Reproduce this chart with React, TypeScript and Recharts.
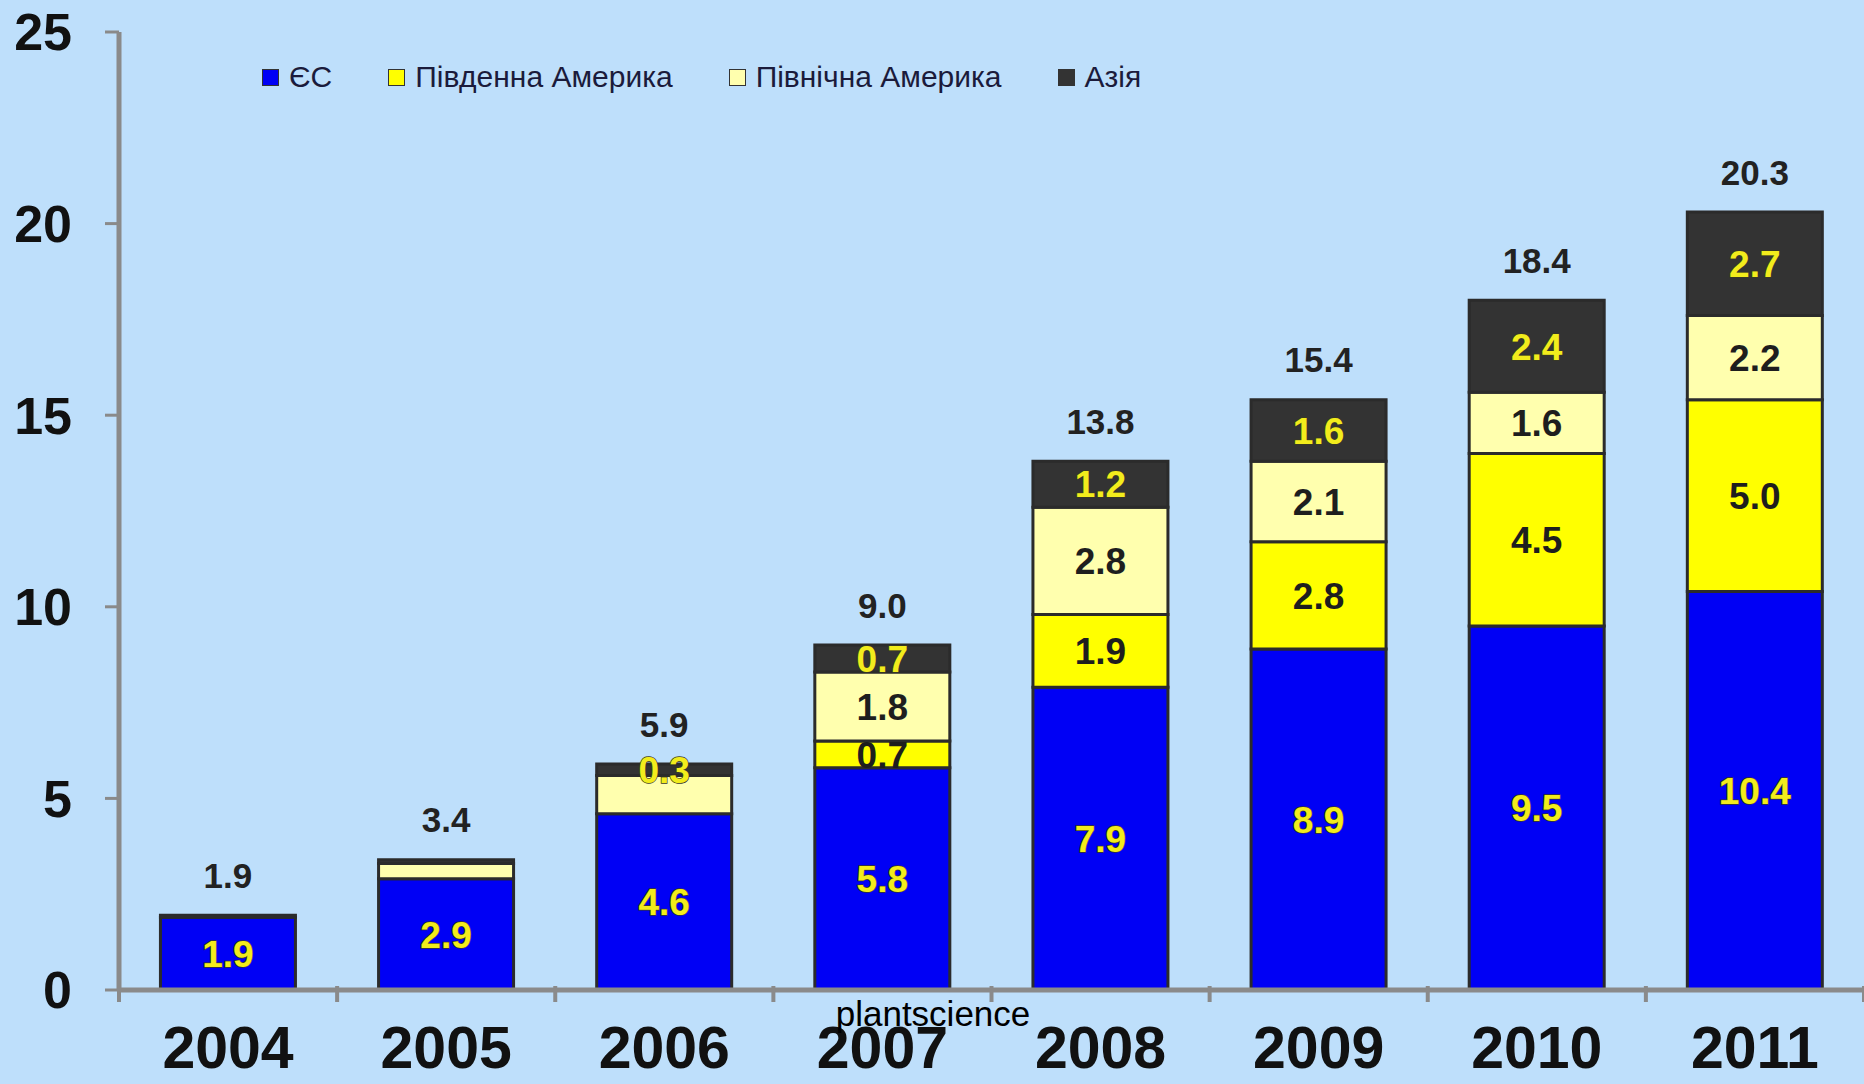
import React from 'react';
import { BarChart, Bar, XAxis, YAxis, Legend, LabelList } from 'recharts';

const years = ['2004', '2005', '2006', '2007', '2008', '2009', '2010', '2011'];
const eu = [1.9, 2.9, 4.6, 5.8, 7.9, 8.9, 9.5, 10.4];
const southAmerica = [0, 0, 0, 0.7, 1.9, 2.8, 4.5, 5.0];
const northAmerica = [0, 0.4, 1.0, 1.8, 2.8, 2.1, 1.6, 2.2];
const asia = [0.05, 0.1, 0.3, 0.7, 1.2, 1.6, 2.4, 2.7];
const totals = [1.9, 3.4, 5.9, 9.0, 13.8, 15.4, 18.4, 20.3];
const yTicks = [0, 5, 10, 15, 20, 25];
const seriesNames = ['ЄС', 'Південна Америка', 'Північна Америка', 'Азія'];

// segments too thin in the original to carry a number
const saHidden = ['2005', '2006'];
const naHidden = ['2005', '2006'];
const asiaHidden = ['2004', '2005'];

const data = years.map((year, i) => ({
  year,
  eu: eu[i],
  sa: southAmerica[i],
  na: northAmerica[i],
  asia: asia[i],
  total: totals[i],
}));

const BG = '#BEDFFB';
const AXIS = '#8A8A8A';
const EDGE = '#2B2B2B';
const FONT = '"Liberation Sans", Arial, sans-serif';

const labelText = (key: string, hidden: string[]) => (d: any) =>
  hidden.includes(d.year) || !d[key] ? '' : Number(d[key]).toFixed(1);

const insideLabel = (fill: string, outline: string | null) => (props: any) => {
  const { x, y, width, height, value } = props;
  if (!value) return null;
  return (
    <text
      x={x + width / 2}
      y={y + height / 2}
      dy="0.36em"
      textAnchor="middle"
      fontFamily={FONT}
      fontWeight="bold"
      fontSize={37}
      fill={fill}
      stroke={outline || 'none'}
      strokeWidth={outline ? 1.4 : 0}
      paintOrder="stroke"
    >
      {value}
    </text>
  );
};

const totalLabel = (props: any) => {
  const { x, y, width, value } = props;
  return (
    <text
      x={x + width / 2}
      y={y - 40}
      dy="0.36em"
      textAnchor="middle"
      fontFamily={FONT}
      fontWeight="bold"
      fontSize={35}
      fill="#222"
    >
      {Number(value).toFixed(1)}
    </text>
  );
};

const YearTick = (props: any) => {
  const { x, y, payload, index } = props;
  const half = payload.offset ?? 109;
  return (
    <g>
      <line x1={x - half} y1={y - 12} x2={x - half} y2={y + 4} stroke={AXIS} strokeWidth={4} />
      {index === years.length - 1 && (
        <line x1={x + half} y1={y - 12} x2={x + half} y2={y + 4} stroke={AXIS} strokeWidth={4} />
      )}
      <text
        x={x}
        y={y + 70}
        textAnchor="middle"
        fontFamily={FONT}
        fontWeight="bold"
        fontSize={59}
        fill="#111"
      >
        {payload.value}
      </text>
    </g>
  );
};

const LegendBox = (props: any) => {
  const items = [...(props.payload || [])].sort(
    (a: any, b: any) => seriesNames.indexOf(a.value) - seriesNames.indexOf(b.value)
  );
  return (
    <div style={{ display: 'flex', alignItems: 'center', fontFamily: FONT, fontSize: 30, color: '#1B1B3B' }}>
      {items.map((it: any, i: number) => (
        <div key={i} style={{ display: 'flex', alignItems: 'center', marginRight: 56 }}>
          <span
            style={{
              width: 15,
              height: 15,
              background: it.color,
              border: '1.5px solid #333',
              marginRight: 10,
              display: 'inline-block',
            }}
          />
          <span>{it.value}</span>
        </div>
      ))}
    </div>
  );
};

export default function App() {
  return (
    <div style={{ position: 'relative', width: 1864, height: 1084, background: BG, overflow: 'hidden' }}>
      <style>{'body{margin:0}'}</style>
      <BarChart
        width={1864}
        height={1084}
        data={data}
        margin={{ top: 32, right: 0, left: 0, bottom: 0 }}
        barCategoryGap="19%"
      >
        <XAxis
          dataKey="year"
          height={94}
          axisLine={{ stroke: AXIS, strokeWidth: 5 }}
          tickLine={false}
          tick={<YearTick />}
          interval={0}
        />
        <YAxis
          width={119}
          domain={[0, 25]}
          ticks={yTicks}
          axisLine={{ stroke: AXIS, strokeWidth: 5 }}
          tickLine={{ stroke: AXIS, strokeWidth: 3 }}
          tickSize={14}
          tickMargin={33}
          tick={{ fontFamily: FONT, fontWeight: 'bold', fontSize: 52, fill: '#111' }}
        />
        <Legend
          layout="horizontal"
          verticalAlign="middle"
          align="center"
          content={<LegendBox />}
          wrapperStyle={{ top: 60, left: 262, width: 1200 }}
        />
        <Bar dataKey="eu" name="ЄС" stackId="a" fill="#0000F5" stroke={EDGE} strokeWidth={3} isAnimationActive={false}>
          <LabelList dataKey={labelText('eu', [])} content={insideLabel('#F2EC1C', '#3A3A22')} />
        </Bar>
        <Bar dataKey="sa" name="Південна Америка" stackId="a" fill="#FFFF00" stroke={EDGE} strokeWidth={3} isAnimationActive={false}>
          <LabelList dataKey={labelText('sa', saHidden)} content={insideLabel('#1E1E1E', null)} />
        </Bar>
        <Bar dataKey="na" name="Північна Америка" stackId="a" fill="#FFFFAE" stroke={EDGE} strokeWidth={3} isAnimationActive={false}>
          <LabelList dataKey={labelText('na', naHidden)} content={insideLabel('#1E1E1E', null)} />
        </Bar>
        <Bar dataKey="asia" name="Азія" stackId="a" fill="#333333" stroke={EDGE} strokeWidth={3} isAnimationActive={false}>
          <LabelList dataKey={labelText('asia', asiaHidden)} content={insideLabel('#F2EC1C', '#3A3A22')} />
          <LabelList dataKey="total" content={totalLabel} />
        </Bar>
      </BarChart>
      <div
        style={{
          position: 'absolute',
          left: 933,
          top: 1014,
          transform: 'translate(-50%, -50%)',
          fontFamily: FONT,
          fontSize: 35,
          color: '#000',
          whiteSpace: 'nowrap',
        }}
      >
        plantscience
      </div>
    </div>
  );
}
